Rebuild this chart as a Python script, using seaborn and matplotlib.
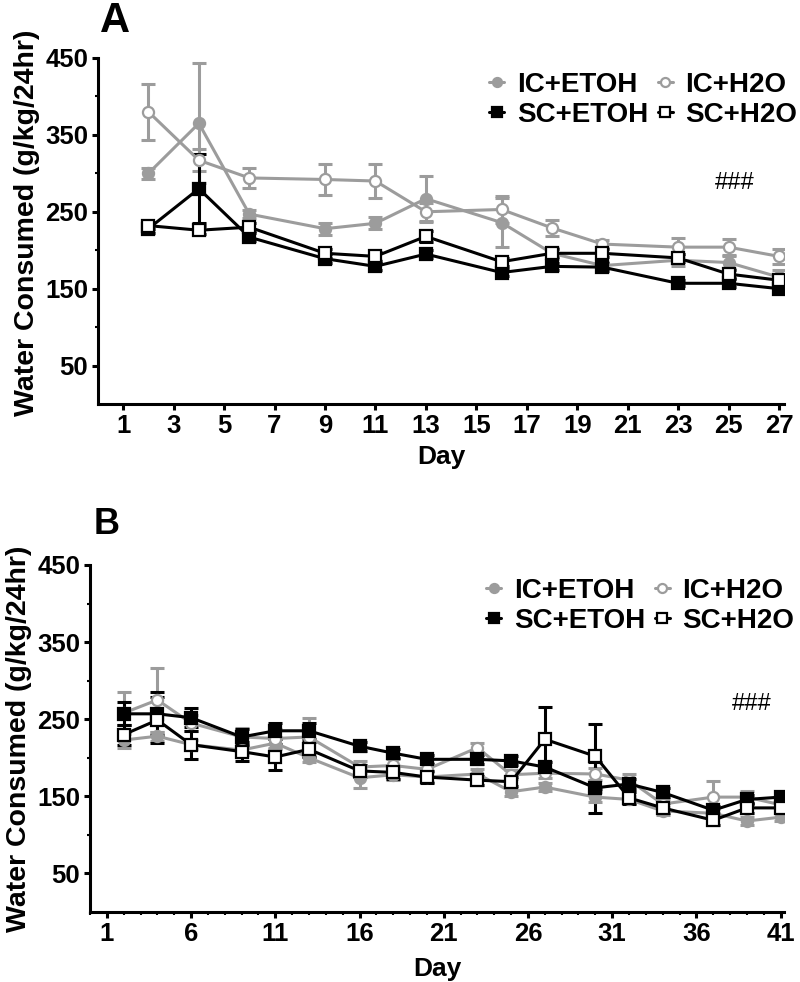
import numpy as np
import pandas as pd
import matplotlib
matplotlib.use("Agg")
import matplotlib.pyplot as plt
import seaborn as sns
from matplotlib.ticker import MultipleLocator, FixedLocator

# ---------------- data ----------------
groups = ["IC+ETOH", "IC+H2O", "SC+ETOH", "SC+H2O"]

days_a = [2, 4, 6, 9, 11, 13, 16, 18, 20, 23, 25, 27]
a_ic_etoh = [300, 365, 247, 228, 235, 267, 236, 196, 180, 187, 184, 165]
a_ic_h2o = [380, 317, 294, 292, 290, 250, 253, 229, 208, 204, 204, 192]
a_sc_etoh = [228, 280, 217, 189, 179, 195, 171, 179, 178, 157, 157, 150]
a_sc_h2o = [232, 226, 230, 196, 192, 218, 185, 196, 196, 190, 169, 161]
a_ic_etoh_err = [7, 78, 5, 8, 8, 30, 32, 7, 5, 8, 8, 9]
a_ic_h2o_err = [36, 14, 13, 20, 22, 12, 18, 10, 5, 12, 10, 10]
a_sc_etoh_err = [5, 45, 5, 6, 5, 5, 5, 5, 5, 4, 5, 5]
a_sc_h2o_err = [5, 5, 5, 6, 6, 7, 5, 5, 5, 5, 5, 6]

days_b = [2, 4, 6, 9, 11, 13, 16, 18, 20, 23, 25, 27, 30, 32, 34, 37, 39, 41]
b_ic_etoh = [223, 228, 217, 210, 219, 200, 174, 178, 175, 179, 156, 162, 149, 146, 131, 128, 118, 123]
b_ic_h2o = [258, 275, 245, 227, 225, 227, 188, 190, 185, 213, 178, 180, 179, 171, 140, 149, 149, 139]
b_sc_etoh = [257, 257, 252, 227, 235, 235, 215, 206, 198, 198, 196, 188, 161, 166, 155, 132, 146, 149]
b_sc_h2o = [230, 249, 217, 208, 201, 211, 183, 181, 175, 171, 169, 224, 202, 148, 135, 119, 135, 135]
b_ic_etoh_err = [10, 6, 6, 6, 8, 6, 13, 7, 6, 6, 5, 5, 6, 5, 5, 5, 5, 5]
b_ic_h2o_err = [27, 41, 10, 12, 12, 25, 8, 8, 8, 6, 6, 6, 8, 8, 6, 21, 8, 6]
b_sc_etoh_err = [15, 28, 12, 10, 10, 10, 6, 6, 6, 6, 6, 6, 33, 6, 6, 6, 6, 6]
b_sc_h2o_err = [13, 30, 18, 12, 17, 10, 8, 8, 8, 6, 6, 42, 42, 8, 6, 6, 6, 6]

GRAY = "#9c9c9c"
BLACK = "#000000"
styles = {
    "IC+ETOH": dict(color=GRAY, marker="o", mfc=GRAY),
    "IC+H2O": dict(color=GRAY, marker="o", mfc="white"),
    "SC+ETOH": dict(color=BLACK, marker="s", mfc=BLACK),
    "SC+H2O": dict(color=BLACK, marker="s", mfc="white"),
}

sns.set_style("ticks")
plt.rcParams["font.family"] = ["Liberation Sans", "DejaVu Sans"]
plt.rcParams["font.weight"] = "bold"
for k in ["text.color", "axes.labelcolor", "xtick.color", "ytick.color", "axes.edgecolor"]:
    plt.rcParams[k] = "black"

fig = plt.figure(figsize=(8.0, 9.82), dpi=100)
axA = fig.add_axes([98 / 800, 1 - 404 / 982, 686 / 800, 346 / 982])
axB = fig.add_axes([90 / 800, 1 - 912 / 982, 694 / 800, 347 / 982])


def draw(ax, days, series, errs, leg_xy, xpad):
    for g, vals, err in zip(groups, series, errs):
        st = styles[g]
        df = pd.DataFrame({"Day": days, "val": vals})
        ax.errorbar(days, vals, yerr=err, fmt="none", ecolor=st["color"],
                    elinewidth=2.2, capsize=5, capthick=2.2, zorder=2)
        sns.lineplot(data=df, x="Day", y="val", ax=ax, color=st["color"],
                     lw=2.2, marker=st["marker"], markersize=8,
                     markerfacecolor=st["mfc"], markeredgecolor=st["color"],
                     markeredgewidth=1.6, label=g, zorder=3)
    ax.set_ylim(0, 450)
    ax.yaxis.set_major_locator(FixedLocator([50, 150, 250, 350, 450]))
    ax.yaxis.set_minor_locator(FixedLocator([100, 200, 300, 400]))
    for s in ["top", "right"]:
        ax.spines[s].set_visible(False)
    for s in ["left", "bottom"]:
        ax.spines[s].set_linewidth(2.2)
    ax.tick_params(which="major", length=4, width=2.2, labelsize=18.5, pad=3)
    ax.tick_params(which="minor", length=2.5, width=1.5)
    ax.set_ylabel("Water Consumed (g/kg/24hr)", fontsize=20.5, fontweight="bold", labelpad=4)
    ax.set_xlabel("Day", fontsize=19, fontweight="bold", labelpad=xpad)
    h, l = ax.get_legend_handles_labels()
    order = [0, 2, 1, 3]
    leg = ax.legend([h[i] for i in order], [l[i] for i in order], ncol=2,
                    loc="upper left", bbox_to_anchor=leg_xy,
                    bbox_transform=fig.transFigure,
                    frameon=False, handlelength=0.55, handletextpad=0.45,
                    columnspacing=0.35, labelspacing=0.15, borderaxespad=0,
                    borderpad=0, prop=dict(size=20, weight="bold"))
    for hh in leg.legend_handles:
        hh.set_markersize(6.5)


draw(axA, days_a, [a_ic_etoh, a_ic_h2o, a_sc_etoh, a_sc_h2o],
     [a_ic_etoh_err, a_ic_h2o_err, a_sc_etoh_err, a_sc_h2o_err],
     (489 / 800, 1 - 72 / 982), 5)
axA.set_xlim(0, 27.2)
axA.xaxis.set_major_locator(FixedLocator(list(range(1, 28, 2))))
axA.xaxis.set_minor_locator(FixedLocator([]))
axA.yaxis.set_label_coords(-0.085, 0.525)
for lab in axA.get_xticklabels() + axA.get_yticklabels():
    lab.set_fontweight("bold")
axA.annotate("###", xy=(25.25, 287), fontsize=17, ha="center", va="center", fontweight="normal")

draw(axB, days_b, [b_ic_etoh, b_ic_h2o, b_sc_etoh, b_sc_h2o],
     [b_ic_etoh_err, b_ic_h2o_err, b_sc_etoh_err, b_sc_h2o_err],
     (486 / 800, 1 - 578 / 982), 8)
axB.set_xlim(0, 41.2)
axB.xaxis.set_major_locator(FixedLocator(list(range(1, 42, 5))))
axB.xaxis.set_minor_locator(MultipleLocator(1))
for lab in axB.get_xticklabels() + axB.get_yticklabels():
    lab.set_fontweight("bold")
axB.annotate("###", xy=(39.3, 270), fontsize=17, ha="center", va="center", fontweight="normal")

fig.text(115 / 800, 1 - 21 / 982, "A", fontsize=30, fontweight="bold", ha="center", va="center")
fig.text(107 / 800, 1 - 525 / 982, "B", fontsize=26, fontweight="bold", ha="center", va="center")

fig.savefig("out.png", dpi=100)
